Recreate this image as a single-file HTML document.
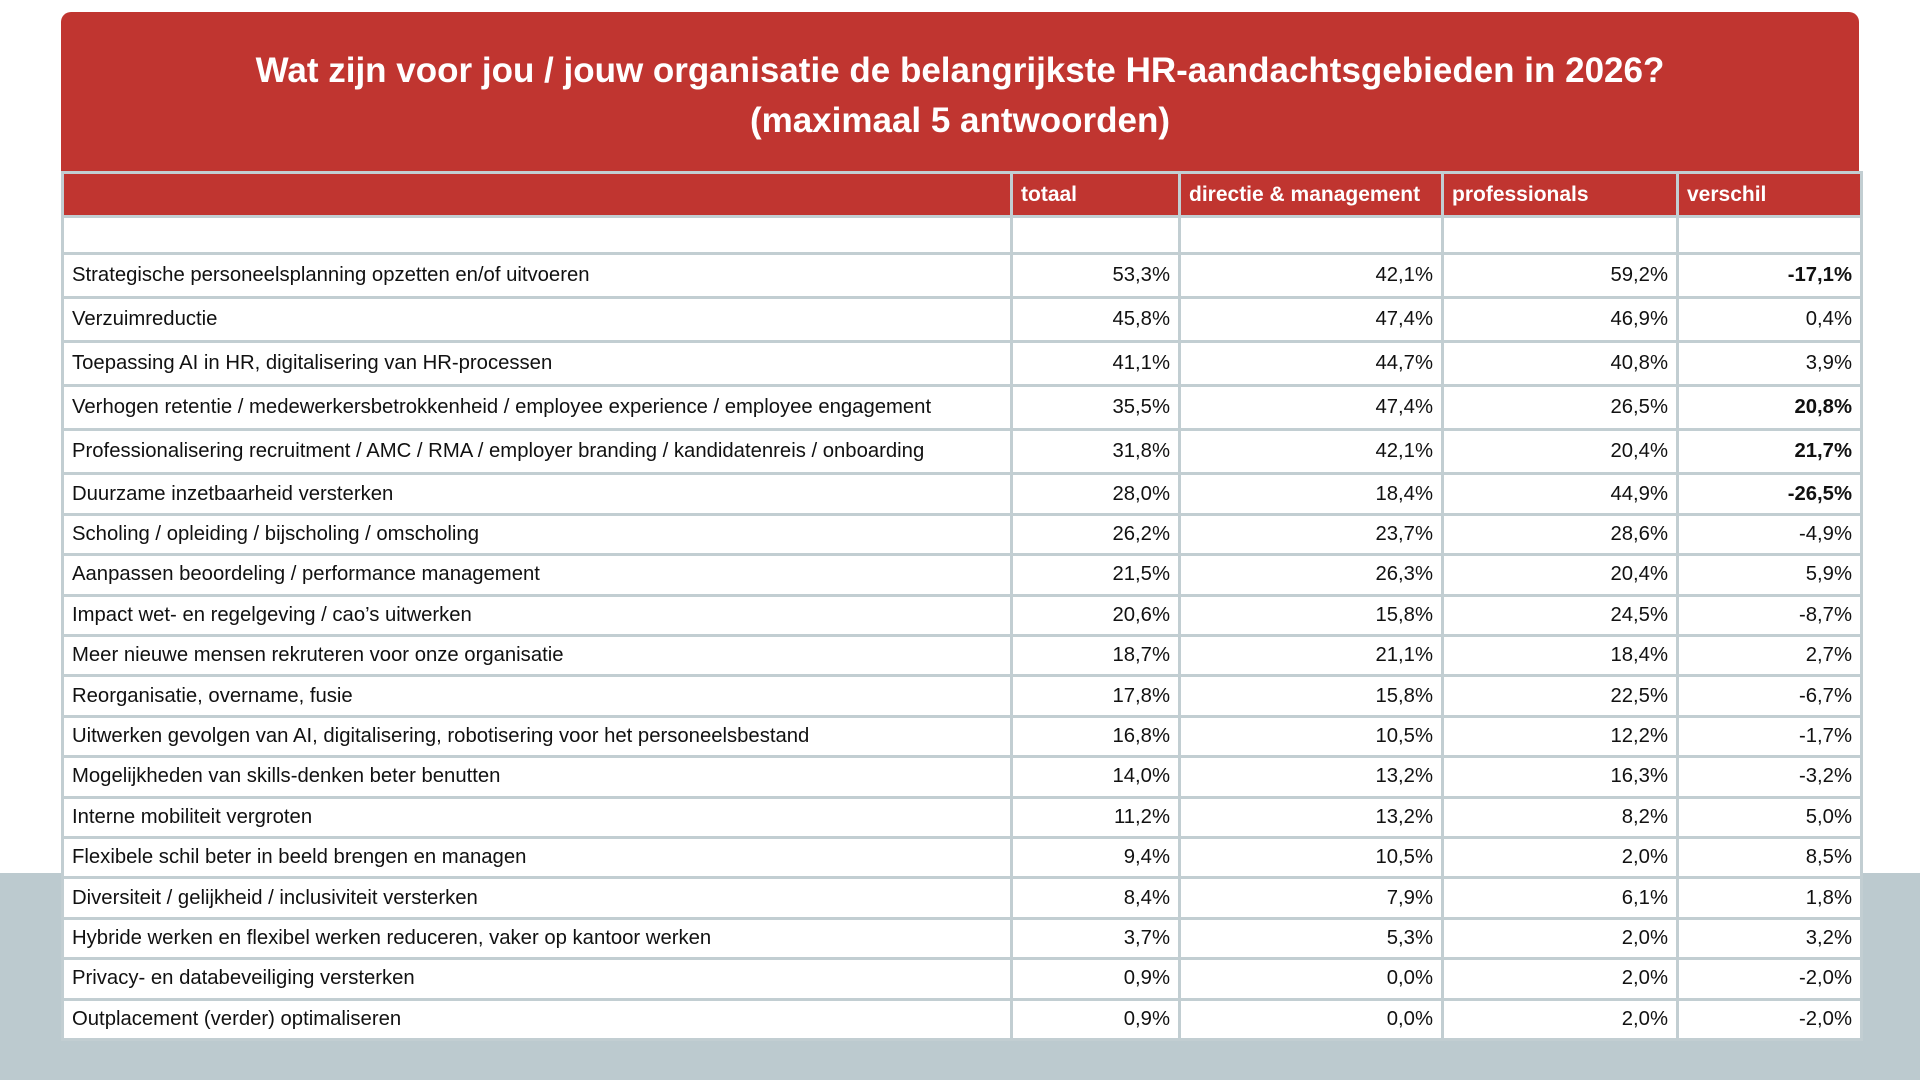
<!DOCTYPE html>
<html><head><meta charset="utf-8"><style>
body{margin:0;width:1920px;height:1080px;background:#fff;position:relative;overflow:hidden;font-family:"Liberation Sans",sans-serif;}
.gray{position:absolute;left:0;top:873px;width:1920px;height:207px;background:#bccacf;}
.red{position:absolute;left:61px;top:12px;width:1798px;height:162px;background:#c03530;border-radius:10px 10px 0 0;}
.title{position:absolute;left:61px;width:1798px;text-align:center;color:#fff;font-weight:bold;font-size:35px;line-height:50px;top:46px;}
table{position:absolute;left:61px;top:171px;width:1799px;border-collapse:collapse;table-layout:fixed;font-size:20.3px;color:#111;}
td,th{border:3px solid #c2ced2;padding:0 8px;background:#fff;overflow:hidden;white-space:nowrap;}
th{background:#c03530;color:#fff;text-align:left;font-weight:bold;font-size:21px;height:41px;}
td{text-align:right;}
td:first-child{text-align:left;}
tr.t td{height:41.1px;}
tr.s td{height:37.4px;}
tr.e td{height:34px;}
b{font-weight:bold;}
</style></head><body>
<div class="gray"></div>
<div class="red"></div>
<div class="title">Wat zijn voor jou / jouw organisatie de belangrijkste HR-aandachtsgebieden in 2026?<br>(maximaal 5 antwoorden)</div>
<table>
<colgroup><col style="width:949px"><col style="width:168px"><col style="width:263px"><col style="width:235px"><col style="width:184px"></colgroup>
<tr><th></th><th>totaal</th><th>directie &amp; management</th><th>professionals</th><th>verschil</th></tr>
<tr class="e"><td></td><td></td><td></td><td></td><td></td></tr>
<tr class="t"><td>Strategische personeelsplanning opzetten en/of uitvoeren</td><td>53,3%</td><td>42,1%</td><td>59,2%</td><td><b>-17,1%</b></td></tr>
<tr class="t"><td>Verzuimreductie</td><td>45,8%</td><td>47,4%</td><td>46,9%</td><td>0,4%</td></tr>
<tr class="t"><td>Toepassing AI in HR, digitalisering van HR-processen</td><td>41,1%</td><td>44,7%</td><td>40,8%</td><td>3,9%</td></tr>
<tr class="t"><td>Verhogen retentie / medewerkersbetrokkenheid / employee experience / employee engagement</td><td>35,5%</td><td>47,4%</td><td>26,5%</td><td><b>20,8%</b></td></tr>
<tr class="t"><td>Professionalisering recruitment / AMC / RMA / employer branding / kandidatenreis / onboarding</td><td>31,8%</td><td>42,1%</td><td>20,4%</td><td><b>21,7%</b></td></tr>
<tr class="s"><td>Duurzame inzetbaarheid versterken</td><td>28,0%</td><td>18,4%</td><td>44,9%</td><td><b>-26,5%</b></td></tr>
<tr class="s"><td>Scholing / opleiding / bijscholing / omscholing</td><td>26,2%</td><td>23,7%</td><td>28,6%</td><td>-4,9%</td></tr>
<tr class="s"><td>Aanpassen beoordeling / performance management</td><td>21,5%</td><td>26,3%</td><td>20,4%</td><td>5,9%</td></tr>
<tr class="s"><td>Impact wet- en regelgeving / cao’s uitwerken</td><td>20,6%</td><td>15,8%</td><td>24,5%</td><td>-8,7%</td></tr>
<tr class="s"><td>Meer nieuwe mensen rekruteren voor onze organisatie</td><td>18,7%</td><td>21,1%</td><td>18,4%</td><td>2,7%</td></tr>
<tr class="s"><td>Reorganisatie, overname, fusie</td><td>17,8%</td><td>15,8%</td><td>22,5%</td><td>-6,7%</td></tr>
<tr class="s"><td>Uitwerken gevolgen van AI, digitalisering, robotisering voor het personeelsbestand</td><td>16,8%</td><td>10,5%</td><td>12,2%</td><td>-1,7%</td></tr>
<tr class="s"><td>Mogelijkheden van skills-denken beter benutten</td><td>14,0%</td><td>13,2%</td><td>16,3%</td><td>-3,2%</td></tr>
<tr class="s"><td>Interne mobiliteit vergroten</td><td>11,2%</td><td>13,2%</td><td>8,2%</td><td>5,0%</td></tr>
<tr class="s"><td>Flexibele schil beter in beeld brengen en managen</td><td>9,4%</td><td>10,5%</td><td>2,0%</td><td>8,5%</td></tr>
<tr class="s"><td>Diversiteit / gelijkheid / inclusiviteit versterken</td><td>8,4%</td><td>7,9%</td><td>6,1%</td><td>1,8%</td></tr>
<tr class="s"><td>Hybride werken en flexibel werken reduceren, vaker op kantoor werken</td><td>3,7%</td><td>5,3%</td><td>2,0%</td><td>3,2%</td></tr>
<tr class="s"><td>Privacy- en databeveiliging versterken</td><td>0,9%</td><td>0,0%</td><td>2,0%</td><td>-2,0%</td></tr>
<tr class="s"><td>Outplacement (verder) optimaliseren</td><td>0,9%</td><td>0,0%</td><td>2,0%</td><td>-2,0%</td></tr>
</table>
</body></html>
